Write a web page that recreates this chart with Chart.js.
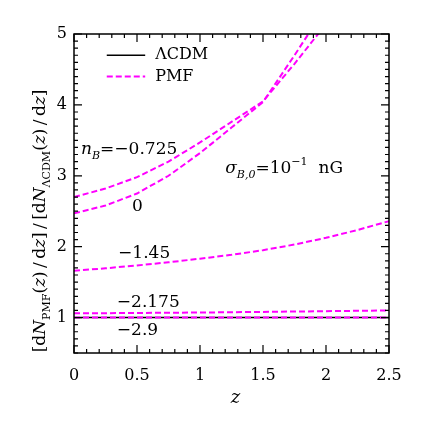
<!DOCTYPE html>
<html>
<head>
<meta charset="utf-8">
<script src="https://cdn.jsdelivr.net/npm/chart.js@4.4.1/dist/chart.umd.min.js"></script>
<style>
  body { margin: 0; background: #fff; }
  canvas { display: block; }
</style>
</head>
<body>
<canvas id="chart" width="421" height="421"></canvas>
<script>
// data
const zValues = [0, 0.25, 0.5, 0.75, 1, 1.25, 1.5, 1.75, 2, 2.25, 2.5];
const lcdm = [1, 1, 1, 1, 1, 1, 1, 1, 1, 1, 1];
const nBm0725 = [2.70, 2.82, 2.98, 3.20, 3.47, 3.76, 4.05, 4.58, 5.14, 5.75, 6.4];
const nB0 = [2.47, 2.58, 2.75, 3.00, 3.32, 3.68, 4.04, 4.70, 5.38, 6.1, 6.9];
const nBm145 = [1.66, 1.695, 1.735, 1.78, 1.83, 1.885, 1.95, 2.03, 2.125, 2.235, 2.36];
const nBm2175 = [1.060, 1.062, 1.065, 1.068, 1.071, 1.075, 1.080, 1.085, 1.090, 1.095, 1.100];
const nBm29 = [1.002, 1.002, 1.002, 1.002, 1.002, 1.002, 1.002, 1.002, 1.002, 1.002, 1.002];
const xTicks = [0, 0.5, 1, 1.5, 2, 2.5];
const yTicks = [1, 2, 3, 4, 5];

const FONT = '"DejaVu Serif"';
const MAGENTA = '#ff00ff';

// annotation text, placed in data coordinates (left edge, vertical centre)
const curveLabels = [
  { z: 0.056, y: 3.37, parts: [{ t: 'n', i: true }, { t: 'B', i: true, sub: true }, { t: '=\u22120.725' }] },
  { z: 0.46, y: 2.56, parts: [{ t: '0' }] },
  { z: 0.35, y: 1.90, parts: [{ t: '\u22121.45' }] },
  { z: 0.34, y: 1.21, parts: [{ t: '\u22122.175' }] },
  { z: 0.34, y: 0.82, parts: [{ t: '\u22122.9' }] },
  { z: 1.20, y: 3.10, parts: [{ t: '\u03c3', i: true }, { t: 'B,0', i: true, sub: true }, { t: '=10' }, { t: '\u22121', sup: true }, { t: '  nG' }] }
];

function richWidth(ctx, parts, size) {
  let w = 0;
  parts.forEach(p => {
    const s = (p.sub || p.sup) ? size * 0.65 : size;
    ctx.font = (p.i ? 'italic ' : '') + s + 'px ' + FONT;
    w += ctx.measureText(p.t).width;
  });
  return w;
}

function drawRich(ctx, parts, x, y, size) {
  ctx.textBaseline = 'middle';
  ctx.textAlign = 'left';
  parts.forEach(p => {
    const s = (p.sub || p.sup) ? size * 0.65 : size;
    ctx.font = (p.i ? 'italic ' : '') + s + 'px ' + FONT;
    let dy = 0;
    if (p.sub) dy = size * 0.36;
    if (p.sup) dy = -size * 0.38;
    ctx.fillText(p.t, x, y + dy);
    x += ctx.measureText(p.t).width;
  });
}

const framePlugin = {
  id: 'frame',
  afterDraw(chart) {
    const ctx = chart.ctx;
    const a = chart.chartArea;
    const xs = chart.scales.x, ys = chart.scales.y;
    ctx.save();
    ctx.strokeStyle = '#000';
    ctx.fillStyle = '#000';
    ctx.lineWidth = 1.5;
    ctx.strokeRect(a.left, a.top, a.right - a.left, a.bottom - a.top);

    // inward ticks on all four sides
    ctx.lineWidth = 1.2;
    ctx.beginPath();
    for (let k = 0; k <= 25; k++) {
      const v = k / 10;
      const px = xs.getPixelForValue(v);
      const len = (k % 5 === 0) ? 8 : 4;
      ctx.moveTo(px, a.bottom); ctx.lineTo(px, a.bottom - len);
      ctx.moveTo(px, a.top); ctx.lineTo(px, a.top + len);
    }
    for (let k = 5; k <= 50; k++) {
      const v = k / 10;
      const py = ys.getPixelForValue(v);
      const len = (k % 10 === 0) ? 8 : 4;
      ctx.moveTo(a.left, py); ctx.lineTo(a.left + len, py);
      ctx.moveTo(a.right, py); ctx.lineTo(a.right - len, py);
    }
    ctx.stroke();

    // legend
    const lx = xs.getPixelForValue(0.26), lx2 = xs.getPixelForValue(0.565);
    const ly1 = ys.getPixelForValue(4.7), ly2 = ys.getPixelForValue(4.4);
    ctx.lineWidth = 1.6;
    ctx.strokeStyle = '#000';
    ctx.beginPath(); ctx.moveTo(lx, ly1); ctx.lineTo(lx2, ly1); ctx.stroke();
    ctx.strokeStyle = MAGENTA;
    ctx.lineWidth = 2;
    ctx.setLineDash([6, 3]);
    ctx.beginPath(); ctx.moveTo(lx, ly2); ctx.lineTo(lx2, ly2); ctx.stroke();
    ctx.setLineDash([]);
    drawRich(ctx, [{ t: '\u039bCDM' }], lx2 + 10, ly1, 16);
    drawRich(ctx, [{ t: 'PMF' }], lx2 + 10, ly2, 16);

    // curve labels
    curveLabels.forEach(l => {
      drawRich(ctx, l.parts, xs.getPixelForValue(l.z), ys.getPixelForValue(l.y), 17);
    });

    // axis titles
    const xt = [{ t: 'z', i: true }];
    drawRich(ctx, xt, (a.left + a.right) / 2 - richWidth(ctx, xt, 18) / 2 + 4, 398, 18);

    const yt = [
      { t: '[d' }, { t: 'N', i: true }, { t: 'PMF', sub: true }, { t: '(' }, { t: 'z', i: true },
      { t: ')\u2009/\u2009d' }, { t: 'z', i: true }, { t: ']\u2009/\u2009[d' }, { t: 'N', i: true }, { t: '\u039bCDM', sub: true },
      { t: '(' }, { t: 'z', i: true }, { t: ')\u2009/\u2009d' }, { t: 'z', i: true }, { t: ']' }
    ];
    ctx.translate(41, 221);
    ctx.rotate(-Math.PI / 2);
    drawRich(ctx, yt, -richWidth(ctx, yt, 17) / 2, 0, 17);
    ctx.restore();
  }
};

function curve(data, color, dash, width) {
  return {
    data: data.map((v, i) => ({ x: zValues[i], y: v })),
    borderColor: color,
    borderWidth: width,
    borderDash: dash,
    pointRadius: 0,
    tension: 0,
    fill: false
  };
}

new Chart(document.getElementById('chart'), {
  type: 'line',
  data: {
    datasets: [
      curve(nBm0725, MAGENTA, [6, 3], 2),
      curve(nB0, MAGENTA, [6, 3], 2),
      curve(nBm145, MAGENTA, [6, 3], 2),
      curve(nBm2175, MAGENTA, [6, 3], 2),
      curve(nBm29, MAGENTA, [6, 3], 2),
      curve(lcdm, '#000', [], 1.6)
    ]
  },
  options: {
    responsive: false,
    animation: false,
    layout: { padding: { left: 0, top: 34, right: 32, bottom: 0 } },
    plugins: { legend: { display: false }, tooltip: { enabled: false } },
    scales: {
      x: {
        type: 'linear',
        min: 0,
        max: 2.5,
        afterBuildTicks: s => { s.ticks = xTicks.map(v => ({ value: v })); },
        afterFit: s => { s.height = 68; },
        grid: { display: false, drawTicks: false },
        border: { display: false },
        ticks: {
          color: '#000',
          font: { family: 'DejaVu Serif', size: 16 },
          padding: 13,
          maxRotation: 0,
          callback: v => String(v)
        }
      },
      y: {
        type: 'linear',
        min: 0.5,
        max: 5,
        afterBuildTicks: s => { s.ticks = yTicks.map(v => ({ value: v })); },
        afterFit: s => { s.width = 74; },
        grid: { display: false, drawTicks: false },
        border: { display: false },
        ticks: { color: '#000', font: { family: 'DejaVu Serif', size: 16 }, padding: 7, callback: v => String(v) }
      }
    }
  },
  plugins: [framePlugin]
});
</script>
</body>
</html>
